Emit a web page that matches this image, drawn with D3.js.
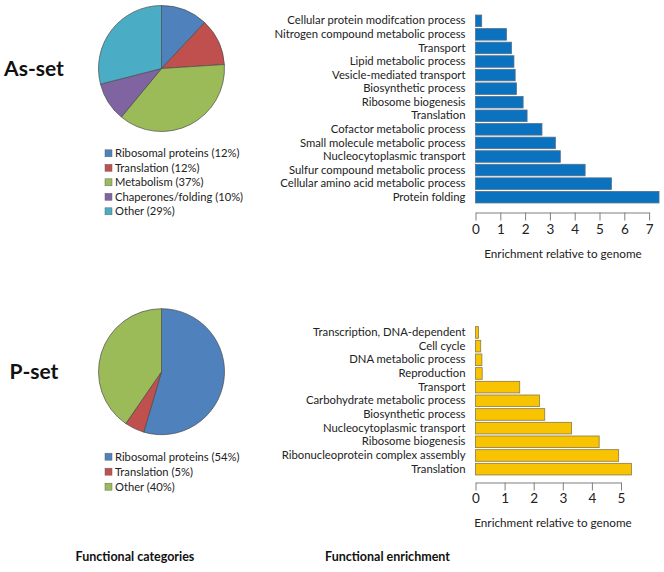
<!DOCTYPE html>
<html>
<head>
<meta charset="utf-8">
<script src="https://cdn.jsdelivr.net/npm/d3@7"></script>
<style>
  body { margin: 0; background: #fff; }
  svg { display: block; font-family: Lato, "Liberation Sans", sans-serif; }
</style>
</head>
<body>
<div id="chart-container"></div>
<script>
// As-set data
const asCategories = ["Ribosomal proteins", "Translation", "Metabolism", "Chaperones/folding", "Other"];
const asShares = [12, 12, 37, 10, 29];
const asColors = ["#4f81bd", "#c0504d", "#9bbb59", "#8064a2", "#4bacc6"];
const asTerms = [
    "Cellular protein modifcation process",
    "Nitrogen compound metabolic process",
    "Transport",
    "Lipid metabolic process",
    "Vesicle-mediated transport",
    "Biosynthetic process",
    "Ribosome biogenesis",
    "Translation",
    "Cofactor metabolic process",
    "Small molecule metabolic process",
    "Nucleocytoplasmic transport",
    "Sulfur compound metabolic process",
    "Cellular amino acid metabolic process",
    "Protein folding"
];
const asEnrichment = [0.25, 1.25, 1.45, 1.55, 1.6, 1.65, 1.92, 2.08, 2.68, 3.22, 3.42, 4.42, 5.48, 7.4];
const asTicks = [0, 1, 2, 3, 4, 5, 6, 7];

// P-set data
const pCategories = ["Ribosomal proteins", "Translation", "Other"];
const pShares = [54, 5, 40];
const pColors = ["#4f81bd", "#c0504d", "#9bbb59"];
const pTerms = [
    "Transcription, DNA-dependent",
    "Cell cycle",
    "DNA metabolic process",
    "Reproduction",
    "Transport",
    "Carbohydrate metabolic process",
    "Biosynthetic process",
    "Nucleocytoplasmic transport",
    "Ribosome biogenesis",
    "Ribonucleoprotein complex assembly",
    "Translation"
];
const pEnrichment = [0.1, 0.18, 0.22, 0.23, 1.52, 2.2, 2.38, 3.3, 4.25, 4.92, 5.36];
const pTicks = [0, 1, 2, 3, 4, 5];

const width = 664;
const height = 572;

const svg = d3.select("#chart-container")
    .append("svg")
    .attr("width", width)
    .attr("height", height);

function drawPanel(opts) {
    const g = svg.append("g");

    // set name
    g.append("text")
        .attr("x", 34)
        .attr("y", opts.cy)
        .attr("dy", "0.35em")
        .attr("text-anchor", "middle")
        .style("font-size", "21px")
        .style("font-weight", "bold")
        .style("fill", "#111")
        .text(opts.name);

    // pie
    const pie = d3.pie().value(d => d.value).sort(null);
    const arc = d3.arc().innerRadius(0).outerRadius(63);
    const pieData = opts.categories.map((c, i) => ({ category: c, value: opts.shares[i], color: opts.colors[i] }));

    g.append("g")
        .attr("transform", `translate(161.5, ${opts.cy})`)
        .selectAll("path")
        .data(pie(pieData))
        .enter()
        .append("path")
        .attr("d", arc)
        .attr("fill", d => d.data.color)
        .attr("stroke", "#4a4a4a")
        .attr("stroke-width", 0.7);

    // legend
    const legend = g.selectAll(".legend")
        .data(pieData)
        .enter()
        .append("g")
        .attr("transform", (d, i) => `translate(105, ${opts.legendY + i * opts.legendStep})`);

    legend.append("rect")
        .attr("x", 0)
        .attr("y", -3.5)
        .attr("width", 7)
        .attr("height", 7)
        .attr("fill", d => d.color)
        .attr("stroke", "#666")
        .attr("stroke-width", 0.5);

    legend.append("text")
        .attr("x", 10)
        .attr("dy", "0.35em")
        .style("font-size", "11.2px")
        .style("fill", "#222")
        .text(d => `${d.category} (${d.value}%)`);

    // bars
    const x = d3.scaleLinear()
        .domain([0, opts.ticks[opts.ticks.length - 1]])
        .range([475.5, 475.5 + opts.ticks[opts.ticks.length - 1] * opts.unit]);

    const y = d3.scaleBand()
        .domain(opts.terms)
        .range(opts.yRange)
        .padding(0.15);

    g.selectAll(".bar")
        .data(opts.terms.map((t, i) => ({ term: t, value: opts.values[i] })))
        .enter()
        .append("rect")
        .attr("x", x(0))
        .attr("y", d => y(d.term))
        .attr("width", d => x(d.value) - x(0))
        .attr("height", y.bandwidth())
        .attr("fill", opts.barColor)
        .attr("stroke", opts.barStroke)
        .attr("stroke-width", 0.8);

    const yAxis = g.append("g")
        .attr("transform", `translate(${x(0)}, 0)`)
        .call(d3.axisLeft(y).tickSize(0).tickPadding(10));
    yAxis.select(".domain").remove();
    yAxis.selectAll("text")
        .style("font-size", "11.3px")
        .style("font-family", "Lato, sans-serif")
        .style("fill", "#222");

    const xAxis = g.append("g")
        .attr("transform", `translate(0, ${opts.axisY})`)
        .call(d3.axisBottom(x).tickValues(opts.ticks).tickFormat(d3.format("d"))
            .tickSize(8).tickSizeOuter(0).tickPadding(opts.tickPad));
    xAxis.selectAll("line, path").attr("stroke", "#7f7f7f");
    xAxis.selectAll("text")
        .style("font-size", "13.5px")
        .style("font-family", "Lato, sans-serif")
        .style("fill", "#222");

    g.append("text")
        .attr("x", opts.titleX)
        .attr("y", opts.titleY)
        .attr("dy", "0.35em")
        .attr("text-anchor", "middle")
        .style("font-size", "11.7px")
        .style("fill", "#222")
        .text("Enrichment relative to genome");
}

drawPanel({
    name: "As-set",
    cy: 68.5,
    categories: asCategories,
    shares: asShares,
    colors: asColors,
    legendY: 153.3,
    legendStep: 14.5,
    terms: asTerms,
    values: asEnrichment,
    ticks: asTicks,
    unit: 24.8,
    yRange: [13, 205],
    barColor: "#0b72c0",
    barStroke: "#55708a",
    axisY: 212.5,
    tickPad: 4,
    titleX: 563,
    titleY: 254
});

drawPanel({
    name: "P-set",
    cy: 371.7,
    categories: pCategories,
    shares: pShares,
    colors: pColors,
    legendY: 456.7,
    legendStep: 15,
    terms: pTerms,
    values: pEnrichment,
    ticks: pTicks,
    unit: 29.1,
    yRange: [324.6, 477],
    barColor: "#f8c300",
    barStroke: "#8a7a4a",
    axisY: 482.5,
    tickPad: 3,
    titleX: 553,
    titleY: 523.3
});

// footer titles
svg.append("text")
    .attr("x", 135)
    .attr("y", 557)
    .attr("dy", "0.35em")
    .attr("text-anchor", "middle")
    .style("font-size", "12.5px")
    .style("font-weight", "bold")
    .style("fill", "#111")
    .text("Functional categories");

svg.append("text")
    .attr("x", 387.5)
    .attr("y", 557)
    .attr("dy", "0.35em")
    .attr("text-anchor", "middle")
    .style("font-size", "12.5px")
    .style("font-weight", "bold")
    .style("fill", "#111")
    .text("Functional enrichment");
</script>
</body>
</html>
